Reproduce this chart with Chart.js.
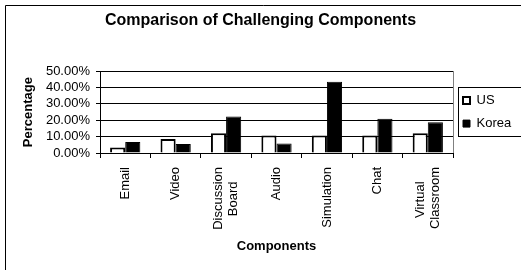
<!DOCTYPE html>
<html>
<head>
<meta charset="utf-8">
<script src="https://cdn.jsdelivr.net/npm/chart.js@4"></script>
<style>
  html, body { margin: 0; padding: 0; background: #fff; }
  #wrap { width: 521px; height: 270px; }
</style>
</head>
<body>
<div id="wrap"><canvas id="chart" width="521" height="270"></canvas></div>
<script>
// === Данные ===
const categories = ['Email', 'Video', ['Discussion', 'Board'], 'Audio', 'Simulation', 'Chat', ['Virtual', 'Classroom']];
const usValues = [3.3, 8.6, 12.1, 10.7, 10.7, 10.7, 12.1];
const koreaValues = [6.8, 5.5, 22.3, 5.8, 43.6, 20.9, 18.8];
const yTicks = [0, 10, 20, 30, 40, 50];

// === Общие настройки ===
const FONT = '"Liberation Sans", Arial, sans-serif';
const TICK_SIZE = 13;
Chart.defaults.font.family = FONT;
Chart.defaults.color = '#000';

// двухстрочные подписи — центрируем короткую строку (как в Excel)
const measure = document.createElement('canvas').getContext('2d');
measure.font = TICK_SIZE + 'px ' + FONT;
const centerLines = (label) => {
  if (!Array.isArray(label)) return label;
  const w = label.map(s => measure.measureText(s).width);
  const max = Math.max(...w);
  const sp = measure.measureText(' ').width;
  return label.map((s, i) => s + ' '.repeat(Math.round((max - w[i]) / 2 / sp)));
};
const isMulti = i => Array.isArray(categories[i]);

// рамка диаграммы, рамка области построения и рамка легенды
const framePlugin = {
  id: 'frame',
  beforeDraw(chart) {
    const { ctx, chartArea: a } = chart;
    ctx.save();
    ctx.fillStyle = '#fff';
    ctx.fillRect(0, 0, chart.width, chart.height);
    ctx.strokeStyle = '#000';
    ctx.lineWidth = 1;
    ctx.beginPath();
    ctx.moveTo(5.5, chart.height);
    ctx.lineTo(5.5, 5.5);
    ctx.lineTo(chart.width, 5.5);
    ctx.stroke();
    ctx.strokeStyle = '#808080';
    ctx.strokeRect(Math.round(a.left) + 0.5, Math.round(a.top) + 0.5, Math.round(a.right - a.left), Math.round(a.bottom - a.top));
    ctx.restore();
  },
  afterDraw(chart) {
    const boxes = chart.legend && chart.legend.legendHitBoxes;
    if (!boxes || !boxes.length) return;
    const { ctx } = chart;
    const first = boxes[0], last = boxes[boxes.length - 1];
    const x = Math.round(first.left) - 4.5;
    const top = Math.round(first.top) - 6.5;
    const bottom = Math.round(last.top + last.height) + 6.5;
    ctx.save();
    ctx.strokeStyle = '#000';
    ctx.lineWidth = 1;
    ctx.strokeRect(x, top, chart.width - x + 5, bottom - top);
    ctx.restore();
  }
};

new Chart(document.getElementById('chart'), {
  type: 'bar',
  data: {
    labels: categories,
    datasets: [
      { label: 'US', data: usValues, backgroundColor: '#fff', borderColor: '#000', borderWidth: 2 },
      { label: 'Korea', data: koreaValues, backgroundColor: '#000', borderColor: '#000', borderWidth: 1 }
    ]
  },
  options: {
    responsive: false,
    animation: false,
    devicePixelRatio: 1,
    layout: { padding: 0 },
    datasets: { bar: { categoryPercentage: 0.6, barPercentage: 1.0 } },
    plugins: {
      title: {
        display: true,
        text: 'Comparison of Challenging Components',
        font: { size: 16, weight: 'bold' },
        color: '#000',
        padding: { top: 11, bottom: 41 }
      },
      legend: {
        position: 'right',
        fullSize: false,
        align: 'center',
        maxWidth: 68,
        labels: { boxWidth: 7, boxHeight: 7, padding: 10, font: { size: 13 }, color: '#000' }
      },
      tooltip: { enabled: false }
    },
    scales: {
      x: {
        grid: { offset: true, drawOnChartArea: false, color: '#000', tickLength: 5 },
        border: { color: '#000' },
        ticks: {
          minRotation: 90, maxRotation: 90, autoSkip: false, padding: 9,
          font: { size: TICK_SIZE }, color: '#000',
          // блок из двух строк центрируется по категории так же, как одна строка
          labelOffset: -TICK_SIZE * 1.2 / 2,
          showLabelBackdrop: ctx => !isMulti(ctx.index),
          backdropColor: 'rgba(0,0,0,0)',
          callback: (v, i) => centerLines(categories[i])
        },
        title: {
          display: true, text: 'Components', color: '#000',
          font: { size: 13, weight: 'bold' }, padding: { top: 0, bottom: 16 }
        },
        afterFit(s) { s.height = 117; }
      },
      y: {
        min: 0,
        max: 50,
        afterBuildTicks(s) { s.ticks = yTicks.map(v => ({ value: v })); },
        ticks: { autoSkip: false, callback: v => v.toFixed(2) + '%', padding: 6, font: { size: TICK_SIZE }, color: '#000' },
        grid: { color: '#000', tickLength: 4 },
        border: { color: '#000' },
        title: {
          display: true, text: 'Percentage', color: '#000',
          font: { size: 13, weight: 'bold' }, padding: { top: 21, bottom: 0 }
        },
        afterFit(s) { s.width = 100; }
      }
    }
  },
  plugins: [framePlugin]
});
</script>
</body>
</html>
